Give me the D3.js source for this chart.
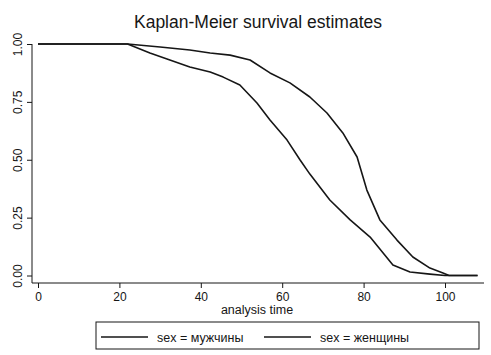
<!DOCTYPE html>
<html><head><meta charset="utf-8">
<script src="https://cdn.jsdelivr.net/npm/d3@7"></script>
<style>body{margin:0;background:#fff}svg{display:block;font-family:"Liberation Sans",Arial,sans-serif}</style>
</head><body><svg id="c" width="491" height="355"></svg>
<script>
const title = "Kaplan-Meier survival estimates";
const xLabel = "analysis time";
const xTicks = [0, 20, 40, 60, 80, 100];
const yTicks = [0, 0.25, 0.5, 0.75, 1];
const seriesNames = ["sex = мужчины", "sex = женщины"];
const menTime = [0, 22, 27.5, 32.4, 37.3, 42.3, 45.5, 49.6, 53.8, 57.0, 61.2, 64.4, 66.8, 71.7, 76.7, 81.6, 84.8, 87.2, 91.4, 96.3, 100, 108];
const menSurv = [1, 1, 0.961, 0.931, 0.901, 0.879, 0.857, 0.823, 0.745, 0.672, 0.585, 0.499, 0.438, 0.326, 0.240, 0.166, 0.097, 0.045, 0.015, 0.006, 0, 0];
const womenTime = [0, 22, 30, 37.3, 42.3, 47.2, 52.1, 57, 61.9, 66.8, 71, 74.9, 78.4, 80.8, 84, 88.2, 92.1, 96.3, 99.5, 101, 108];
const womenSurv = [1, 1, 0.987, 0.974, 0.961, 0.952, 0.931, 0.875, 0.832, 0.771, 0.702, 0.616, 0.512, 0.369, 0.240, 0.153, 0.080, 0.032, 0.011, 0, 0];

const svg = d3.select("#c");
const x = d3.scaleLinear().domain([0, 100]).range([38, 445]);
const y = d3.scaleLinear().domain([0, 1]).range([275.5, 44]);
const ink = "#161616";

svg.append("text").attr("x", 258).attr("y", 28).attr("text-anchor", "middle")
  .attr("font-size", 17.5).attr("fill", ink).text(title);

// y axis
const ya = svg.append("g").attr("transform", "translate(32,0)")
  .call(d3.axisLeft(y).tickValues(yTicks).tickFormat(d3.format(".2f")).tickSize(5).tickPadding(4));
ya.select(".domain").remove();
ya.append("line").attr("x1", 0).attr("x2", 0).attr("y1", 44).attr("y2", 283).attr("stroke", ink);
ya.selectAll(".tick line").attr("stroke", ink);
ya.selectAll(".tick text").attr("font-size", 12).attr("fill", ink)
  .attr("text-anchor", "middle").attr("dy", "0")
  .attr("transform", "rotate(-90)").attr("x", 0).attr("y", -10);

// x axis
const xa = svg.append("g").attr("transform", "translate(0,283)")
  .call(d3.axisBottom(x).tickValues(xTicks).tickSize(5).tickPadding(4));
xa.select(".domain").remove();
xa.append("line").attr("x1", 32).attr("x2", 484).attr("y1", 0).attr("y2", 0).attr("stroke", ink);
xa.selectAll(".tick line").attr("stroke", ink);
xa.selectAll(".tick text").attr("font-size", 12).attr("fill", ink);

svg.append("text").attr("x", 257).attr("y", 314).attr("text-anchor", "middle")
  .attr("font-size", 12.5).attr("fill", ink).text(xLabel);

const line = d3.line().x(d => x(d[0])).y(d => y(d[1]));
const menData = menTime.map((t, i) => [t, menSurv[i]]);
const womenData = womenTime.map((t, i) => [t, womenSurv[i]]);
[menData, womenData].forEach(dt => {
  svg.append("path").datum(dt).attr("d", line).attr("fill", "none")
    .attr("stroke", ink).attr("stroke-width", 1.6).attr("stroke-linejoin", "round");
});

// legend
const lg = svg.append("g");
lg.append("rect").attr("x", 96).attr("y", 322).attr("width", 383).attr("height", 27)
  .attr("fill", "none").attr("stroke", ink).attr("stroke-width", 1);
const lx = [101, 264];
seriesNames.forEach((n, i) => {
  lg.append("line").attr("x1", lx[i]).attr("x2", lx[i] + 47).attr("y1", 337).attr("y2", 337)
    .attr("stroke", ink).attr("stroke-width", 1.6);
  lg.append("text").attr("x", lx[i] + 56).attr("y", 341.5).attr("font-size", 12.5).attr("fill", ink).text(n);
});
</script></body></html>
